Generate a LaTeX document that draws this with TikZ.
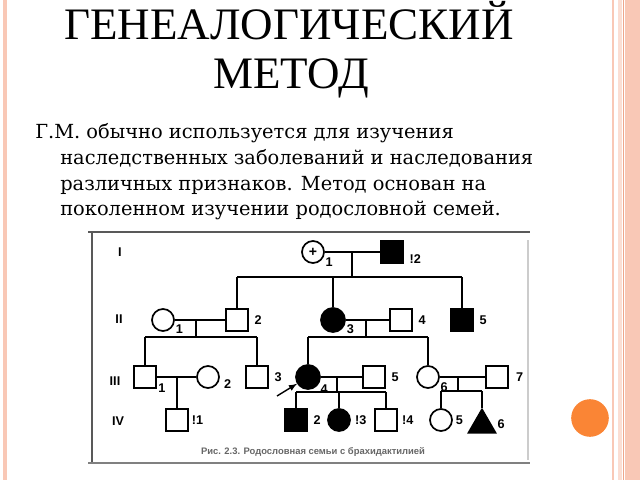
\documentclass[tikz,border=0pt]{standalone}
\usepackage{fontspec}
\setmainfont{DejaVu Serif}
\newfontfamily\titlefont{Liberation Serif}
\newfontfamily\numfont{Liberation Sans}
\usetikzlibrary{shapes.geometric}
\definecolor{salmon}{HTML}{F9C8B6}
\definecolor{salmondk}{HTML}{EFA68B}
\definecolor{orangedot}{HTML}{FA8535}

\begin{document}
\begin{tikzpicture}
        [
            x = 0.025cm, y = -0.025cm,
            male/.style    = {shape=rectangle, draw, minimum size=0.55cm, inner sep=0pt},
            female/.style  = {shape=circle, draw, minimum size=0.55cm, inner sep=0pt},
            ill/.style     = {fill=black},
            num/.style     = {font=\numfont\bfseries\fontsize{9}{9}\selectfont, inner sep=0.5pt},
            gen/.style     = {font=\numfont\bfseries\fontsize{9}{9}\selectfont},
            body/.style    = {font=\fontsize{13.8}{13.8}\selectfont, anchor=base west, inner sep=0pt},
            heading/.style = {font=\titlefont\fontsize{32}{32}\selectfont, anchor=base, inner sep=0pt},
            % every label/.style = {label distance=2pt}
        ]
        \useasboundingbox (0,0) rectangle (640,480);
        % slide decoration
        \fill [salmon] (3,0) rectangle (7,480);
        \fill [salmon] (612,0) rectangle (614,480);
        \fill [salmon!60] (618,0) rectangle (622,480);
        \fill [salmondk] (623,0) rectangle (624,480);
        \fill [salmon] (625,0) rectangle (640,480);
        \fill [orangedot] (590,418) circle [radius=0.47cm];

        \node (ttlA) [heading] at (289,39) {ГЕНЕАЛОГИЧЕСКИЙ};
        \node (ttlB) [heading] at (291,88) {МЕТОД};

        \node (txtA) [body] at (35,138) {Г.М. обычно используется для изучения};
        \node (txtB) [body] at (60,164) {наследственных заболеваний и наследования};
        \node (txtC) [body] at (60,190) {различных признаков. Метод основан на};
        \node (txtD) [body] at (60,215) {поколенном изучении родословной семей.};

        % frame of the scanned figure
        \draw [gray!70!black, line width=1pt] (88,232) -- (530,232);
        \draw [gray!70!black, line width=1pt] (92,232) -- (92,463);
        \draw [gray, line width=1.6pt] (88,463) -- (530,463);
        \draw [gray!40, line width=1pt] (528,240) -- (528,460);
        \node (cap) [font=\numfont\bfseries\fontsize{6.7}{6.7}\selectfont, text=gray!80!black] at (313,452)
            {Рис. 2.3. Родословная семьи с брахидактилией};

        \node (gI)   [gen] at (120,252) {I};
        \node (gII)  [gen] at (119,319) {II};
        \node (gIII) [gen] at (115,381) {III};
        \node (gIV)  [gen] at (118,421) {IV};

        \begin{scope}[line width=1.2pt]
        % generation I
        \node (I1) [female, font=\numfont\bfseries, label={[num]-20:1}] at (313,252) {+};
        \node (I2) [male, ill, label={[num, label distance=3pt]-5:!2}] at (392,252) {};
        % generation II
        \node (II1) [female, label={[num]-15:1}] at (163,320) {};
        \node (II2) [male, label={[num, label distance=3pt]0:2}] at (237,320) {};
        \node (II3) [female, ill, minimum size=0.6cm, label={[num]-15:3}] at (333,320) {};
        \node (II4) [male, label={[num, label distance=3pt]0:4}] at (401,320) {};
        \node (II5) [male, ill, label={[num, label distance=3pt]0:5}] at (462,320) {};
        % generation III
        \node (III1) [male, label={[num]-25:1}] at (145,377) {};
        \node (III2) [female, label={[num, label distance=2pt]-5:2}] at (208,377) {};
        \node (III3) [male, label={[num, label distance=3pt]0:3}] at (257,377) {};
        \node (III4) [female, ill, minimum size=0.6cm, label={[num]-30:4}] at (308,377) {};
        \node (III5) [male, label={[num, label distance=3pt]0:5}] at (374,377) {};
        \node (III6) [female, label={[num]-20:6}] at (428,377) {};
        \node (III7) [male, label={[num, label distance=4pt]0:7}] at (497,377) {};
        % generation IV
        \node (IV1) [male, label={[num, label distance=1pt]0:!1}] at (177,420) {};
        \node (IV2) [male, ill, label={[num, label distance=3pt]0:2}] at (296,420) {};
        \node (IV3) [female, ill, label={[num, label distance=2pt]0:!3}] at (339,420) {};
        \node (IV4) [male, label={[num, label distance=2pt]0:!4}] at (386,420) {};
        \node (IV5) [female, label={[num, label distance=1pt]0:5}] at (441,420) {};
        \node (IV6) [regular polygon, regular polygon sides=3, draw, ill, minimum size=0.78cm,
                     inner sep=0pt, label={[num, label distance=3pt]2:6}] at (482,425) {};

        % marriages and sibships
        \coordinate (mI) at (352,252);
        \coordinate (sI) at (352,277);
        \draw (I1) -- (I2);
        \draw (mI) -- (sI);
        \draw (II2 |- sI) -- (II5 |- sI);
        \foreach \k in {II2, II3, II5}
            \draw (\k) -- (\k |- sI);

        \coordinate (mIIa) at (196,320);
        \coordinate (sIIa) at (196,337);
        \draw (II1) -- (II2);
        \draw (mIIa) -- (sIIa);
        \draw (III1 |- sIIa) -- (III3 |- sIIa);
        \foreach \k in {III1, III3}
            \draw (\k) -- (\k |- sIIa);

        \coordinate (mIIb) at (366,320);
        \coordinate (sIIb) at (366,337);
        \draw (II3) -- (II4);
        \draw (mIIb) -- (sIIb);
        \draw (III4 |- sIIb) -- (III6 |- sIIb);
        \foreach \k in {III4, III6}
            \draw (\k) -- (\k |- sIIb);

        \coordinate (mIIIa) at (177,377);
        \draw (III1) -- (III2);
        \draw (mIIIa) -- (IV1);

        \coordinate (mIIIb) at (337,377);
        \coordinate (sIIIb) at (337,392);
        \draw (III4) -- (III5);
        \draw (mIIIb) -- (sIIIb);
        \draw (IV2 |- sIIIb) -- (IV4 |- sIIIb);
        \foreach \k in {IV2, IV3, IV4}
            \draw (\k) -- (\k |- sIIIb);

        \coordinate (mIIIc) at (458,377);
        \coordinate (sIIIc) at (458,391);
        \draw (III6) -- (III7);
        \draw (mIIIc) -- (sIIIc);
        \draw (IV5 |- sIIIc) -- (IV6 |- sIIIc);
        \foreach \k in {IV5, IV6}
            \draw (\k) -- (\k |- sIIIc);

        % proband
        \coordinate (prb) at (277,396);
        \draw [-latex, line width=1pt] (prb) -- (III4);
        \end{scope}
    \end{tikzpicture}
\end{document}
